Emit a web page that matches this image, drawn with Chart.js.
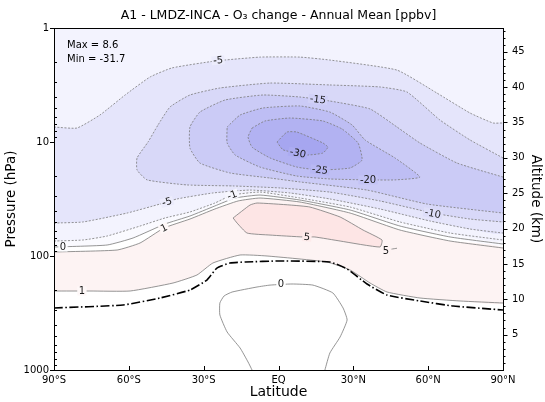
<!DOCTYPE html>
<html>
<head>
<meta charset="utf-8">
<script src="https://cdn.jsdelivr.net/npm/chart.js@4.4.1/dist/chart.umd.min.js"></script>
<style>
  html, body { margin: 0; padding: 0; background: #fff; }
</style>
</head>
<body>
<canvas id="o3Chart" width="545" height="402"></canvas>
<script>
// Axis ticks
const latTicks = [-90, -60, -30, 0, 30, 60, 90];
const latTickLabels = ['90°S', '60°S', '30°S', 'EQ', '30°N', '60°N', '90°N'];
const pressureTicks = [1, 10, 100, 1000];
const altitudeTicks = [5, 10, 15, 20, 25, 30, 35, 40, 45];
const scaleHeightKm = 7;
const statsText = ['Max = 8.6', 'Min = -31.7'];

// Contours: [latitude, pressure hPa]
const minus5Upper = [[-90, 7.39], [-80.8, 7.54], [-71.6, 5.8], [-61.5, 3.87], [-51.5, 2.69], [-42.7, 2.24], [-25.5, 1.95], [-7.4, 1.8], [8.6, 1.8], [20.6, 1.91], [47.5, 2.34], [63.5, 3.72], [76.8, 5.57], [86, 6.81], [90, 6.81]];
const minus5Lower = [[-90, 51.4], [-78.4, 50.3], [-60.7, 42], [-47.5, 35], [-40.7, 31.6], [-26.3, 28], [-11.4, 26.4], [4.6, 28], [20.6, 31.6], [40.7, 38.7], [60.7, 49.3], [76.8, 58], [90, 62.9]];
const minus10 = [[90, 13.8], [76.8, 9.6], [64.7, 6.41], [51.5, 3.64], [40.7, 3.29], [20.6, 3.16], [-3.4, 3.04], [-23.5, 3.36], [-35.5, 3.87], [-43.5, 4.93], [-48.3, 7.09], [-52.3, 10], [-56.7, 13.8], [-56.7, 17.6], [-52.7, 21.5], [-36.7, 23.8], [-18.2, 24.3], [0.6, 25.3], [20.6, 27.5], [40.7, 32.9], [61.9, 42], [76.8, 47.4], [90, 50.3]];
const minus15 = [[90, 20.3], [71.6, 15.3], [56.7, 10.2], [47.5, 7.39], [36.7, 5.13], [20.6, 4.37], [8.6, 4.03], [-6.2, 3.87], [-21.4, 4.28], [-31.5, 5.46], [-35.5, 7.39], [-35.5, 11.3], [-31.5, 15.3], [-19.4, 18.7], [-3.4, 20.7], [8.6, 22.4], [35.5, 26.4], [59.5, 35], [90, 42]];
const minus20 = [[-20.6, 7.39], [-15.4, 5.8], [-6.2, 5.03], [8.6, 4.83], [20.6, 5.46], [29.5, 7.09], [34.7, 9.6], [46.7, 13.8], [56.7, 20.3], [46.7, 21.5], [35.9, 21.5], [20.6, 21.1], [7.4, 19.9], [-7.4, 16.6], [-17.4, 13], [-20.6, 10.2], [-20.6, 7.39]];
const minus25 = [[-10.6, 7.54], [-5.4, 6.54], [4.6, 6.16], [17.8, 6.54], [25.5, 7.69], [31.9, 10.2], [33.5, 14.4], [28.7, 16.9], [16.6, 17.6], [7.4, 16.6], [-3.4, 13.8], [-10.6, 11.1], [-12.2, 9.04], [-10.6, 7.54]];
const minus30 = [[-0.6, 10], [3.4, 8.18], [7.4, 8.18], [17.8, 10.2], [19.8, 11.1], [17.8, 12.5], [11.4, 13], [1.8, 11.7], [-0.6, 10]];
const minus1 = [[-90, 73.9], [-78.4, 72.4], [-68.7, 66.8], [-55.5, 54.6], [-45.5, 46.4], [-35.5, 41.1], [-25.5, 34.3], [-18.6, 29.2], [-7.4, 27.5], [8.6, 31], [28.7, 37.2], [48.7, 50.3], [68.8, 62.9], [90, 72.4]];
const zeroLine = [[-90, 83.4], [-68.7, 80.1], [-58.3, 69.5], [-45.5, 52.4], [-35.5, 44.6], [-25.5, 36.4], [-17.4, 31], [-7.4, 29.2], [8.6, 32.3], [28.7, 39.5], [48.7, 54.6], [68.8, 68.1], [90, 78.5]];
const oneUpper = [[-90, 92.2], [-64.7, 88.6], [-55.5, 76.9], [-45.9, 56.8], [-35.5, 47.4], [-25.5, 38.7], [-16.2, 32.9], [-7.4, 31], [8.6, 33.6], [28.7, 42], [48.7, 59.2], [68.8, 73.9], [90, 85.1]];
const oneLower = [[-90, 202.8], [-75.6, 202.8], [-59.5, 202.8], [-42.3, 172.6], [-32.7, 146.8], [-26.3, 115.2], [-15.4, 98], [-4.6, 100], [19.4, 112.9], [28.7, 132.7], [36.7, 172.6], [43.5, 206.9], [56.7, 233.6], [72.8, 248.1], [90, 258.4]];
const zeroBulb = [[-10.6, 1000], [-12.2, 851], [-15.4, 641], [-20.6, 464], [-23.5, 329], [-23.5, 258], [-21.8, 224], [-18.6, 207], [-8.6, 187], [-3.4, 180], [5.4, 176], [13.8, 180], [21.8, 211], [25.9, 286], [27.5, 364], [24.7, 513], [20.6, 709], [18.6, 1000]];
const plus5 = [[-18.2, 46.4], [-11.4, 35.7], [-8.6, 34.3], [4.6, 35.7], [12.6, 37.2], [24.7, 45.5], [33.9, 59.2], [41.5, 72.4], [40.7, 83.4], [24.7, 73.9], [14.6, 68.1], [9.8, 68.1], [-3.4, 65.5], [-12.6, 62.9], [-16.6, 51.4], [-18.2, 46.4]];
const plus5Bit = [[45.3, 87], [47.5, 85.5]];
const tropopause = [[-90, 285.8], [-62.3, 269], [-47.5, 233.6], [-35.5, 198.7], [-28.7, 162.4], [-24.7, 127.5], [-19.4, 115.2], [-13.4, 112.9], [0.6, 110.6], [20.6, 112.9], [27.5, 130], [35.5, 176.1], [43.5, 219.9], [56.7, 248.1], [70, 274.5], [90, 297.6]];
const topCorners = [[90, 1], [-90, 1]];

// Inline contour labels: [text, latitude, pressure]
const contourLabels = [['-5', -24.2, 1.92], ['-15', 15.8, 4.23], ['-30', 7.8, 12.5], ['-25', 16.6, 17.6], ['-20', 35.9, 21.5], ['-10', 61.9, 42.5], ['-5', -44.7, 33.6], ['-1', -18.6, 29.2], ['1', -45.9, 56.8], ['0', -86.4, 83.4], ['5', 11.4, 68.1], ['5', 43.1, 90.4], ['1', -78.8, 202.8], ['0', 1.0, 176]];
// rotation (deg) and background for each label
const labelStyles = [[-5, '#ececfc'], [7, '#d1d1f7'], [12, '#acacf1'], [7, '#b8b8f3'], [0, '#c4c4f5'], [11, '#dedef9'], [-16, '#ececfc'], [-20, '#f7f7fe'], [-26, '#fef8f8'], [0, '#fdfdff'], [5, '#fdebeb'], [0, '#fdf3f3'], [0, '#fef8f8'], [0, '#ffffff']];

const toXY = pts => pts.map(([x, y]) => ({x: x, y: y}));
const datasets = [];
const addArea = (pts, color) => datasets.push({
    data: toXY(pts), fill: 'shape', backgroundColor: color,
    borderColor: 'rgba(0,0,0,0)', borderWidth: 0, pointRadius: 0, tension: 0.15
});
const addLine = (pts, color, width, dash) => datasets.push({
    data: toXY(pts), fill: false, borderColor: color, borderWidth: width,
    borderDash: dash, pointRadius: 0, tension: 0.15
});

// filled bands, bottom first
addArea(zeroLine.concat(topCorners), '#fafaff');
addArea(minus1.concat(topCorners), '#f3f3fe');
addArea(minus5Upper.concat(minus5Lower.slice().reverse()), '#e5e5fb');
addArea(minus10, '#d8d8f8');
addArea(minus15, '#cbcbf6');
addArea(minus20, '#bebef4');
addArea(minus25, '#b2b2f2');
addArea(minus30, '#a6a6f0');
addArea(oneUpper.concat(oneLower.slice().reverse()), '#fdf3f3');
addArea(plus5, '#fde5e5');

// contour lines
[minus5Upper, minus5Lower, minus10, minus15, minus20, minus25, minus30, minus1].forEach(c => addLine(c, '#7a7a7a', 0.8, [2, 1.5]));
[zeroLine, oneUpper, oneLower, zeroBulb, plus5, plus5Bit].forEach(c => addLine(c, '#7a7a7a', 0.8, []));
addLine(tropopause, '#000', 1.6, [9, 2.5, 1.5, 2.5]);

datasets.forEach((d, i) => { d.order = datasets.length - i; });

const decorPlugin = {
    id: 'decor',
    afterDatasetsDraw(chart) {
        const {ctx, scales: {x, y}} = chart;
        ctx.save();
        ctx.font = '10px "DejaVu Sans"';
        ctx.textAlign = 'center';
        ctx.textBaseline = 'middle';
        contourLabels.forEach(([text, lat, p], i) => {
            const [angle, bg] = labelStyles[i];
            const w = ctx.measureText(text).width;
            ctx.save();
            ctx.translate(x.getPixelForValue(lat), y.getPixelForValue(p));
            ctx.rotate(angle * Math.PI / 180);
            ctx.fillStyle = bg;
            ctx.fillRect(-w / 2 - 1.5, -4.5, w + 3, 9);
            ctx.fillStyle = '#1a1a1a';
            ctx.fillText(text, 0, 0.5);
            ctx.restore();
        });
        ctx.restore();
    },
    afterDraw(chart) {
        const {ctx, chartArea: a, scales: {x, y, y2}} = chart;
        ctx.save();
        ctx.strokeStyle = '#000';
        ctx.lineWidth = 1;
        ctx.strokeRect(a.left + 0.5, a.top + 0.5, a.right - a.left, a.bottom - a.top);

        ctx.beginPath();
        latTicks.forEach(v => {
            const px = Math.round(x.getPixelForValue(v)) + 0.5;
            ctx.moveTo(px, a.bottom);
            ctx.lineTo(px, a.bottom - 4);
        });
        pressureTicks.forEach(v => {
            const py = Math.round(y.getPixelForValue(v)) + 0.5;
            ctx.moveTo(a.left - 4, py);
            ctx.lineTo(a.left, py);
        });
        [1, 10, 100].forEach(d => {
            for (let k = 2; k < 10; k++) {
                const py = Math.round(y.getPixelForValue(d * k)) + 0.5;
                ctx.moveTo(a.left, py);
                ctx.lineTo(a.left + 3, py);
            }
        });
        for (let z = 1; z <= 48; z++) {
            const py = Math.round(y2.getPixelForValue(1000 * Math.exp(-z / scaleHeightKm))) + 0.5;
            const len = z % 5 === 0 ? 4 : 2;
            ctx.moveTo(a.right + 0.5, py);
            ctx.lineTo(a.right + 0.5 + len, py);
        }
        ctx.stroke();

        ctx.fillStyle = '#000';
        ctx.font = '12.5px "DejaVu Sans"';
        ctx.textAlign = 'center';
        ctx.textBaseline = 'middle';
        ctx.fillText('A1 - LMDZ-INCA - O₃ change - Annual Mean [ppbv]', (a.left + a.right) / 2, 16);

        ctx.font = '10px "DejaVu Sans"';
        ctx.textAlign = 'left';
        ctx.fillText(statsText[0], a.left + 13, a.top + 17);
        ctx.fillText(statsText[1], a.left + 13, a.top + 31);
        ctx.restore();
    }
};

const tickFont = {family: 'DejaVu Sans', size: 10};
const titleFont = {family: 'DejaVu Sans', size: 13.5};

new Chart(document.getElementById('o3Chart'), {
    type: 'line',
    data: {datasets: datasets},
    options: {
        responsive: false,
        animation: false,
        devicePixelRatio: 1,
        events: [],
        layout: {padding: {top: 28, left: 0, right: 0, bottom: 0}},
        plugins: {legend: {display: false}, tooltip: {enabled: false}},
        scales: {
            x: {
                type: 'linear', min: -90, max: 90, position: 'bottom',
                afterBuildTicks: s => { s.ticks = latTicks.map(v => ({value: v})); },
                afterFit: s => { s.height = 32; },
                ticks: {callback: (v, i) => latTickLabels[i], font: tickFont, color: '#000', padding: 4, autoSkip: false, maxRotation: 0},
                grid: {display: false, drawTicks: false, tickLength: 0},
                border: {display: false},
                title: {display: true, text: 'Latitude', font: {family: 'DejaVu Sans', size: 14}, color: '#000', padding: {top: 0, bottom: 1.5}}
            },
            y: {
                type: 'logarithmic', min: 1, max: 1000, reverse: true, position: 'left',
                afterBuildTicks: s => { s.ticks = pressureTicks.map(v => ({value: v})); },
                afterFit: s => { s.width = 54; },
                ticks: {callback: v => String(v), font: tickFont, color: '#000', padding: 5, autoSkip: false},
                grid: {display: false, drawTicks: false, tickLength: 0},
                border: {display: false},
                title: {display: true, text: 'Pressure (hPa)', font: titleFont, color: '#000', padding: {top: 3.5, bottom: 0}}
            },
            y2: {
                type: 'logarithmic', min: 1, max: 1000, reverse: true, position: 'right',
                afterBuildTicks: s => { s.ticks = altitudeTicks.map(z => ({value: 1000 * Math.exp(-z / scaleHeightKm)})); },
                afterFit: s => { s.width = 42; },
                ticks: {callback: v => String(Math.round(scaleHeightKm * Math.log(1000 / v))), font: tickFont, color: '#000', padding: 9, autoSkip: false},
                grid: {display: false, drawTicks: false, tickLength: 0},
                border: {display: false},
                title: {display: true, text: 'Altitude (km)', font: titleFont, color: '#000', padding: {top: 1.5, bottom: 0}}
            }
        }
    },
    plugins: [decorPlugin]
});
</script>
</body>
</html>
